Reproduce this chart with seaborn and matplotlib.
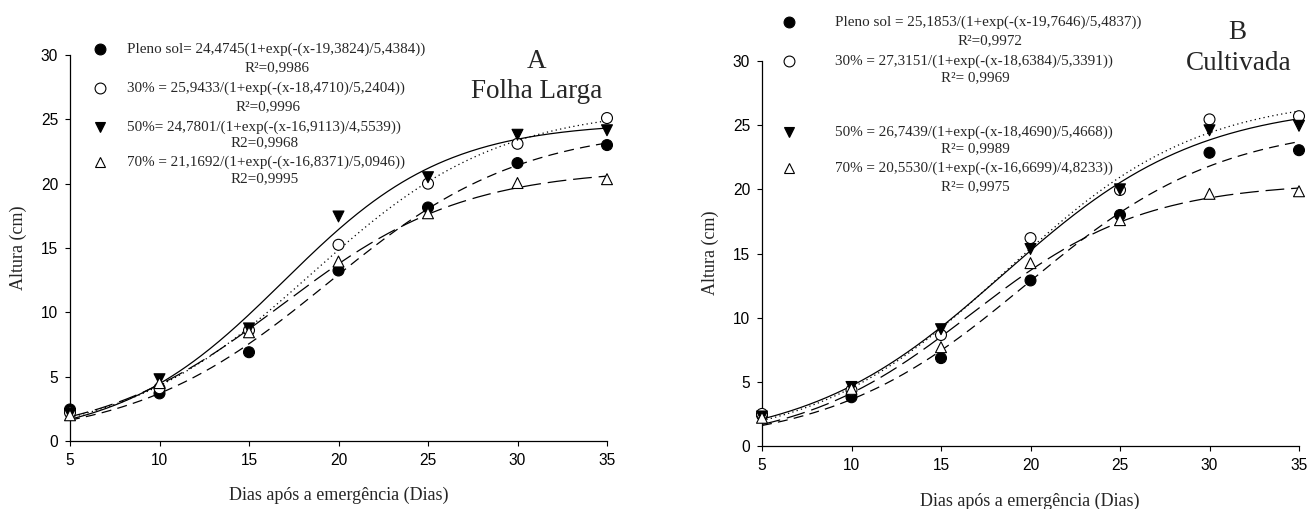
import numpy as np
import pandas as pd
import seaborn as sns
import matplotlib.pyplot as plt

output_file = "out.png"

days = [5, 10, 15, 20, 25, 30, 35]
treatments = ["Pleno sol", "30%", "50%", "70%"]

# A - Folha Larga, measured heights (cm)
larga_pleno = [2.45, 3.7, 6.9, 13.25, 18.15, 21.6, 23.0]
larga_30 = [2.2, 4.1, 8.6, 15.25, 20.0, 23.1, 25.1]
larga_50 = [2.1, 4.8, 8.75, 17.45, 20.5, 23.8, 24.15]
larga_70 = [2.0, 4.5, 8.45, 13.95, 17.7, 20.05, 20.35]

# B - Cultivada, measured heights (cm)
cult_pleno = [2.4, 3.8, 6.85, 12.9, 18.0, 22.85, 23.05]
cult_30 = [2.5, 4.35, 8.65, 16.2, 19.95, 25.45, 25.7]
cult_50 = [2.3, 4.6, 9.1, 15.35, 20.0, 24.6, 24.95]
cult_70 = [2.2, 4.45, 7.7, 14.25, 17.6, 19.65, 19.85]

# fitted logistic parameters, as printed on the chart: a / (1 + exp(-(x - x0) / b))
larga_a = [24.4745, 25.9433, 24.7801, 21.1692]
larga_x0 = [19.3824, 18.4710, 16.9113, 16.8371]
larga_b = [5.4384, 5.2404, 4.5539, 5.0946]
cult_a = [25.1853, 27.3151, 26.7439, 20.5530]
cult_x0 = [19.7646, 18.6384, 18.4690, 16.6699]
cult_b = [5.4837, 5.3391, 5.4668, 4.8233]

larga_eq = ["Pleno sol= 24,4745(1+exp(-(x-19,3824)/5,4384))",
            "30% = 25,9433/(1+exp(-(x-18,4710)/5,2404))",
            "50%= 24,7801/(1+exp(-(x-16,9113)/4,5539))",
            "70% = 21,1692/(1+exp(-(x-16,8371)/5,0946))"]
larga_r2 = ["R\u00b2=0,9986", "R\u00b2=0,9996", "R2=0,9968", "R2=0,9995"]
cult_eq = ["Pleno sol = 25,1853/(1+exp(-(x-19,7646)/5,4837))",
           "30% = 27,3151/(1+exp(-(x-18,6384)/5,3391))",
           "50% = 26,7439/(1+exp(-(x-18,4690)/5,4668))",
           "70% = 20,5530/(1+exp(-(x-16,6699)/4,8233))"]
cult_r2 = ["R\u00b2=0,9972", "R\u00b2= 0,9969", "R\u00b2= 0,9989", "R\u00b2= 0,9975"]

markers = {"Pleno sol": "o", "30%": "o", "50%": "v", "70%": "^"}
fills = {"Pleno sol": "black", "30%": "white", "50%": "black", "70%": "white"}
dashes = {"Pleno sol": (8, 5), "30%": (1, 2.6), "50%": "", "70%": (15, 5.5)}

sns.set_style("ticks")
plt.rcParams["font.family"] = ["Liberation Serif", "DejaVu Serif"]
serif = "Liberation Serif"
sans = "Liberation Sans"

W, H = 1307, 509
fig = plt.figure(figsize=(W / 100, H / 100), dpi=100)


def make_points(series):
    rows = []
    for t, vals in zip(treatments, series):
        for d, v in zip(days, vals):
            rows.append({"Dia": d, "Altura": v, "Trat": t})
    return pd.DataFrame(rows)


def make_fits(a, x0, b):
    xs = np.linspace(days[0], days[-1], 300)
    parts = []
    for t, aa, cc, bb in zip(treatments, a, x0, b):
        parts.append(pd.DataFrame({"Dia": xs,
                                   "Altura": aa / (1 + np.exp(-(xs - cc) / bb)),
                                   "Trat": t}))
    return pd.concat(parts, ignore_index=True)


def draw_panel(box, points, fits, eqs, r2s, leg, titles, labels):
    l, r, t, b = box
    ax = fig.add_axes([l / W, (H - b) / H, (r - l) / W, (b - t) / H])

    sns.lineplot(data=fits, x="Dia", y="Altura", style="Trat",
                 style_order=treatments, dashes=dashes, color="black",
                 lw=0.9, legend=False, ax=ax)
    sns.scatterplot(data=points, x="Dia", y="Altura", hue="Trat", style="Trat",
                    hue_order=treatments, style_order=treatments,
                    palette=fills, markers=markers, edgecolor="black",
                    linewidth=0.8, s=62, legend=False, clip_on=False,
                    zorder=3, ax=ax)

    ax.set_xlim(5, 35)
    ax.set_ylim(0, 30)
    ax.set_xticks(days)
    ax.set_yticks([0, 5, 10, 15, 20, 25, 30])
    ax.set_xlabel("")
    ax.set_ylabel("")
    ax.tick_params(direction="out", length=3.6, width=0.8, pad=5,
                   labelsize=11.2, colors="black")
    for lab in ax.get_xticklabels() + ax.get_yticklabels():
        lab.set_fontfamily(sans)
    for s in ["left", "bottom"]:
        ax.spines[s].set_linewidth(0.9)
        ax.spines[s].set_color("black")
    sns.despine(ax=ax)

    def fx(px):
        return (px - l) / (r - l)

    def fy(py):
        return (b - py) / (b - t)

    # legend written out as in the original figure
    mx, tx, ys, r2x, r2y = leg
    for i, tr in enumerate(treatments):
        ax.plot([fx(mx)], [fy(ys[i])], marker=markers[tr], ms=7.8,
                mfc=fills[tr], mec="black", mew=0.8, ls="none",
                transform=ax.transAxes, clip_on=False)
        ax.text(fx(tx), fy(ys[i]), eqs[i], transform=ax.transAxes,
                ha="left", va="center", fontsize=10.9, family=serif)
        ax.text(fx(r2x[i]), fy(r2y[i]), r2s[i], transform=ax.transAxes,
                ha="center", va="center", fontsize=10.9, family=serif)

    for txt, (px, py) in titles:
        ax.text(fx(px), fy(py), txt, transform=ax.transAxes, ha="center",
                va="center", fontsize=19.5, family=serif)

    (ylx, yly), (xlx, xly) = labels
    ax.text(fx(ylx), fy(yly), "Altura (cm)", transform=ax.transAxes,
            rotation=90, ha="center", va="center", fontsize=13, family=serif)
    ax.text(fx(xlx), fy(xly), "Dias após a emergência (Dias)",
            transform=ax.transAxes, ha="center", va="center", fontsize=13,
            family=serif)
    return ax


draw_panel((70, 607, 55, 441),
           make_points([larga_pleno, larga_30, larga_50, larga_70]),
           make_fits(larga_a, larga_x0, larga_b),
           larga_eq, larga_r2,
           (100, 127, [49, 88, 127, 162], [277, 268, 265, 265], [68, 107, 143, 179]),
           [("A", (537, 61)), ("Folha Larga", (537, 92))],
           ((18, 248), (339, 495)))

draw_panel((762, 1299, 61, 446),
           make_points([cult_pleno, cult_30, cult_50, cult_70]),
           make_fits(cult_a, cult_x0, cult_b),
           cult_eq, cult_r2,
           (789, 835, [22, 61, 132, 168], [990, 975, 975, 975], [41, 78, 149, 187]),
           [("B", (1237, 32)), ("Cultivada", (1239, 63))],
           ((710, 253), (1030, 501)))

plt.savefig(output_file, dpi=100)
